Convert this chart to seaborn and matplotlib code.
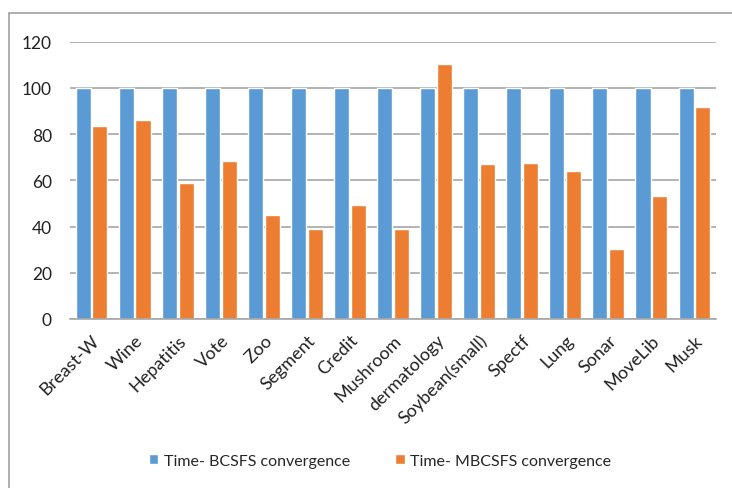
import matplotlib
matplotlib.use("Agg")
import matplotlib.pyplot as plt
import seaborn as sns
import pandas as pd
from matplotlib.patches import Rectangle

datasets = ["Breast-W", "Wine", "Hepatitis", "Vote", "Zoo", "Segment", "Credit",
            "Mushroom", "dermatology", "Soybean(small)", "Spectf", "Lung", "Sonar",
            "MoveLib", "Musk"]
bcsfs_time = [100] * 15
mbcsfs_time = [83.7, 86.0, 58.7, 68.4, 45.2, 39.0, 49.5, 39.0, 110.4, 67.1,
               67.7, 64.1, 30.4, 53.4, 91.6]
series_names = ["Time- BCSFS convergence", "Time- MBCSFS convergence"]
y_ticks = [0, 20, 40, 60, 80, 100, 120]

df = pd.DataFrame({
    "dataset": datasets * 2,
    "value": bcsfs_time + mbcsfs_time,
    "series": [series_names[0]] * len(datasets) + [series_names[1]] * len(datasets),
})

sns.set_theme(style="white")
plt.rcParams["font.family"] = ["Lato", "DejaVu Sans"]

W, H = 732, 489
fig = plt.figure(figsize=(W / 100, H / 100), dpi=100)
ax = fig.add_axes([70 / W, 1 - 320 / H, (716 - 70) / W, (320 - 42.7) / H])

sns.barplot(data=df, x="dataset", y="value", hue="series",
            palette=["#5B9BD5", "#ED7D31"], width=0.78, gap=0.1,
            saturation=1, ax=ax, legend=True)

ax.set_ylim(0, 120)
ax.set_xlim(-0.5, len(datasets) - 0.5)
ax.set_yticks(y_ticks)
ax.set_yticklabels([str(t) for t in y_ticks], fontsize=12.5, color="#222222")
ax.set_xlabel("")
ax.set_ylabel("")
ax.yaxis.grid(True, color="#A6A6A6", linewidth=1.2)
ax.set_axisbelow(True)
for side in ["left", "right", "top"]:
    ax.spines[side].set_visible(False)
ax.spines["bottom"].set_color("#A6A6A6")
ax.spines["bottom"].set_linewidth(1.2)
ax.tick_params(axis="y", length=0, pad=13)
ax.tick_params(axis="x", length=0, pad=9)
ax.set_xticks(range(len(datasets)))
ax.set_xticklabels(datasets, rotation=45, ha="right", rotation_mode="anchor",
                   fontsize=13, color="#222222")

handles, labels = ax.get_legend_handles_labels()
ax.legend_.remove()
fig.legend(handles, labels, loc="center", bbox_to_anchor=(380 / W, 1 - 462 / H),
           ncol=2, frameon=False, fontsize=11.5, handlelength=0.6, handleheight=0.6,
           columnspacing=2.8, handletextpad=0.35)

# outer chart-area frame
fig.patches.append(Rectangle((9 / W, -0.1), 1.2, 1 - 14 / H + 0.1,
                             transform=fig.transFigure, fill=False,
                             edgecolor="#A0A0A0", linewidth=1.2))

fig.savefig("out.png", dpi=100)
